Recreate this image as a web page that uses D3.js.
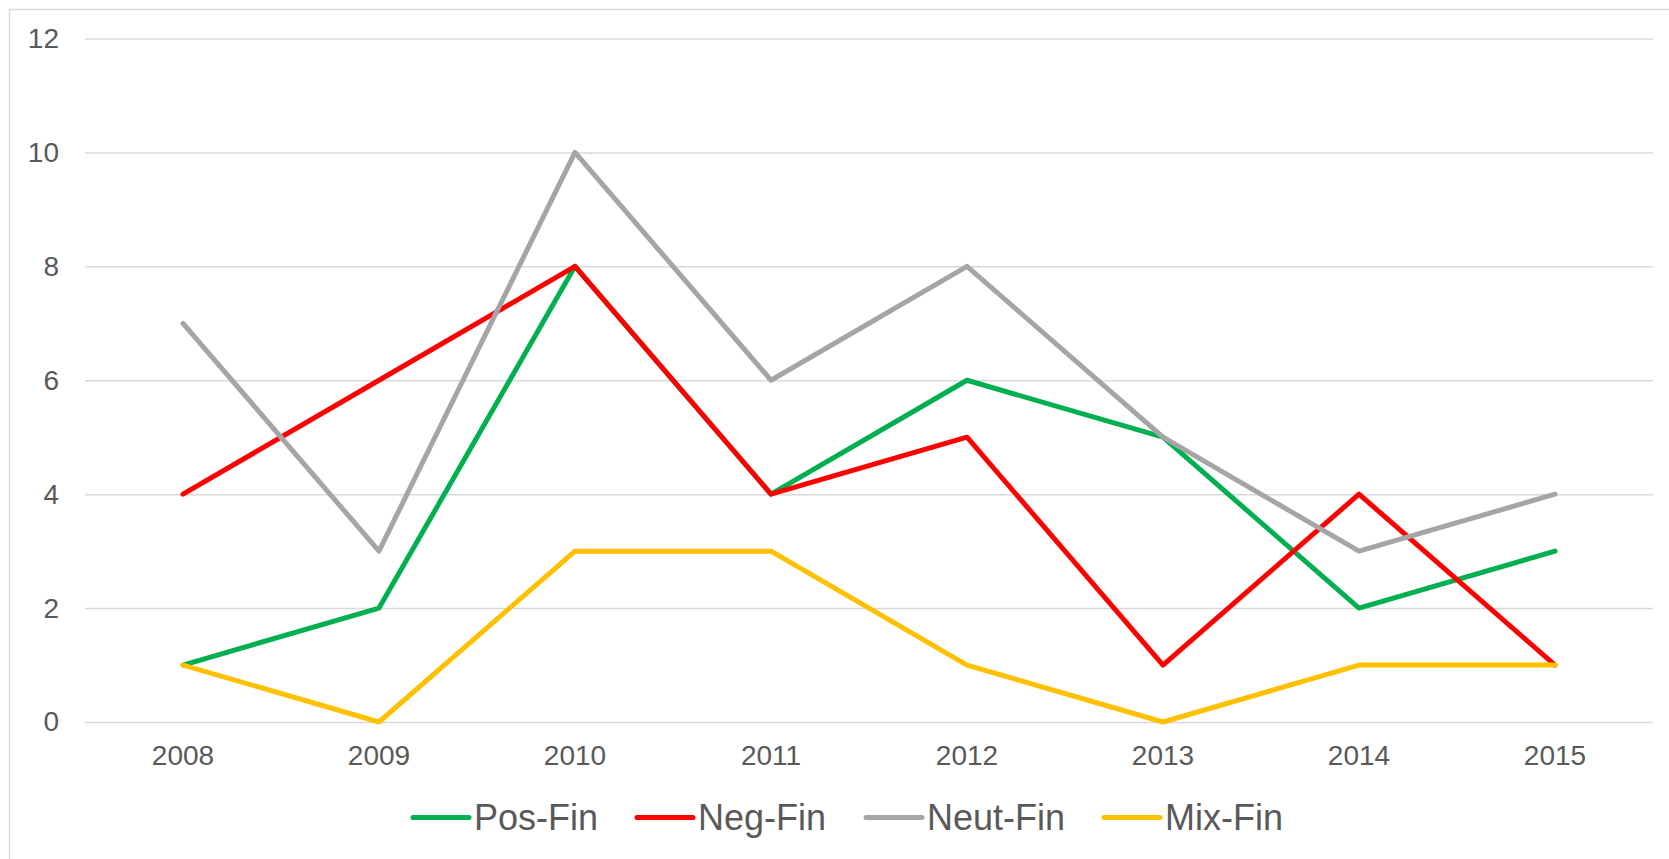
<!DOCTYPE html>
<html>
<head>
<meta charset="utf-8">
<script src="https://cdn.jsdelivr.net/npm/d3@7"></script>
<style>
  body { margin: 0; background: #fff; }
  svg { display: block; }
  text { font-family: Arial, "Liberation Sans", sans-serif; fill: #595959; }
</style>
</head>
<body>
<svg></svg>
<script>
// data
var years = ["2008", "2009", "2010", "2011", "2012", "2013", "2014", "2015"];
var posFin = [1, 2, 8, 4, 6, 5, 2, 3];
var negFin = [4, 6, 8, 4, 5, 1, 4, 1];
var neutFin = [7, 3, 10, 6, 8, 5, 3, 4];
var mixFin = [1, 0, 3, 3, 1, 0, 1, 1];
var yTicks = [0, 2, 4, 6, 8, 10, 12];
var seriesNames = ["Pos-Fin", "Neg-Fin", "Neut-Fin", "Mix-Fin"];
var seriesColors = ["#00B050", "#FF0000", "#A5A5A5", "#FFC000"];

var width = 1669, height = 859;
var margins = {left: 85, right: 16, top: 38.5, bot: 137};

var svg = d3.select("svg")
            .attr("width", width)
            .attr("height", height);

// chart area border (only top/left show, rest is cropped)
svg.append("rect")
   .attr("x", 9.5).attr("y", 9.5)
   .attr("width", 1800).attr("height", 1000)
   .attr("fill", "none")
   .attr("stroke", "#D9D9D9")
   .attr("stroke-width", 1.5);

var xScale = d3.scaleBand()
               .domain(years)
               .range([margins.left, width - margins.right]);
var yScale = d3.scaleLinear()
               .domain([0, 12])
               .range([height - margins.bot, margins.top]);

// gridlines + y labels
var yAxis = d3.axisLeft(yScale)
              .tickValues(yTicks)
              .tickSize(-(width - margins.right - margins.left))
              .tickPadding(26);
var gy = svg.append("g")
            .attr("transform", "translate(" + margins.left + ",0)")
            .call(yAxis);
gy.select(".domain").remove();
gy.selectAll("line").attr("stroke", "#D9D9D9").attr("stroke-width", 1.5);
gy.selectAll("text").attr("font-size", 28).attr("fill", "#595959")
  .style("font-family", "Arial, 'Liberation Sans', sans-serif");

// x labels
var xAxis = d3.axisBottom(xScale).tickSize(0).tickPadding(23);
var gx = svg.append("g")
            .attr("transform", "translate(0," + (height - margins.bot) + ")")
            .call(xAxis);
gx.select(".domain").remove();
gx.selectAll("text").attr("font-size", 28).attr("fill", "#595959")
  .style("font-family", "Arial, 'Liberation Sans', sans-serif");

// lines
var allSeries = [posFin, negFin, neutFin, mixFin];
var line = d3.line()
             .x(function(d, i) { return xScale(years[i]) + xScale.bandwidth() / 2; })
             .y(function(d) { return yScale(d); });

allSeries.forEach(function(s, k) {
  svg.append("path")
     .datum(s)
     .attr("d", line)
     .attr("fill", "none")
     .attr("stroke", seriesColors[k])
     .attr("stroke-width", 5)
     .attr("stroke-linejoin", "round")
     .attr("stroke-linecap", "round");
});

// legend
var legendX = [413, 637, 866, 1104];
var legend = svg.append("g");
seriesNames.forEach(function(name, k) {
  legend.append("line")
        .attr("x1", legendX[k]).attr("x2", legendX[k] + 56)
        .attr("y1", 817.5).attr("y2", 817.5)
        .attr("stroke", seriesColors[k])
        .attr("stroke-width", 5)
        .attr("stroke-linecap", "round");
  legend.append("text")
        .attr("x", legendX[k] + 61)
        .attr("y", 830)
        .attr("font-size", 36)
        .text(name);
});
</script>
</body>
</html>
